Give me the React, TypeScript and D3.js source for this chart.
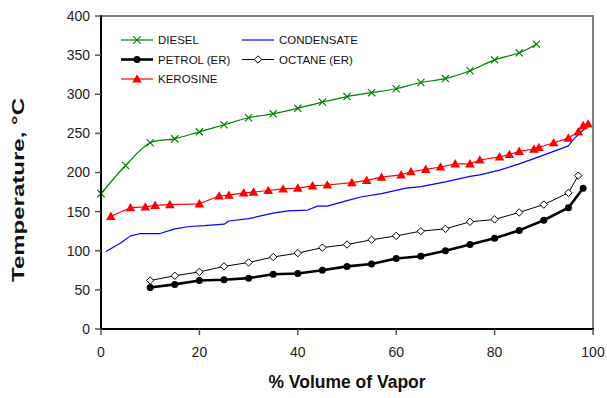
import React from "react";
import * as d3 from "d3";

// Distillation curves: temperature (°C) against % volume vaporised
const dieselX = [0, 5, 10, 15, 20, 25, 30, 35, 40, 45, 50, 55, 60, 65, 70, 75, 80, 85, 88.5];
const dieselY = [173, 209, 238, 243, 252, 261, 270, 275, 282, 290, 297, 302, 307, 315, 320, 330, 344, 353, 364];

const condensateX = [1, 4, 6, 8, 12, 15, 18, 21, 25, 26, 30, 35, 38, 42, 44, 46, 50, 53, 57, 62, 65, 70, 75, 77, 81, 85, 89, 92, 95, 96, 97.4, 99];
const condensateY = [99, 110, 119, 122, 122, 128, 131, 132, 134, 138, 141, 148, 151, 152, 157, 157, 164, 169, 173, 180, 182, 188, 195, 197, 203, 211, 220, 227, 234, 242, 251, 259];

const petrolX = [10, 15, 20, 25, 30, 35, 40, 45, 50, 55, 60, 65, 70, 75, 80, 85, 90, 95, 98];
const petrolY = [53, 57, 62, 63, 65, 70, 71, 75, 80, 83, 90, 93, 100, 108, 116, 126, 139, 155, 180];

const octaneX = [10, 15, 20, 25, 30, 35, 40, 45, 50, 55, 60, 65, 70, 75, 80, 85, 90, 95, 97];
const octaneY = [62, 68, 73, 80, 85, 92, 97, 104, 108, 114, 119, 125, 128, 137, 140, 149, 159, 174, 196];

const keroseneX = [2, 6, 9, 11, 14, 20, 24, 26, 29, 31, 34, 37, 40, 43, 46, 51, 54, 57, 61, 63, 66, 69, 72, 75, 77, 81, 83, 85, 88, 89, 92, 95, 97, 98, 99];
const keroseneY = [144, 155, 156, 158, 159, 160, 170, 171, 174, 175, 177, 179, 180, 183, 184, 187, 190, 194, 197, 201, 204, 207, 211, 211, 216, 220, 223, 227, 230, 232, 238, 244, 252, 260, 262];

const xTicks = [0, 20, 40, 60, 80, 100];
const yTicks = [0, 50, 100, 150, 200, 250, 300, 350, 400];

type Pt = [number, number];
const zip = (xs: number[], ys: number[]): Pt[] => xs.map((x, i) => [x, ys[i]]);

const W = 607;
const H = 398;
const x = d3.scaleLinear().domain([0, 100]).range([101, 593]);
const y = d3.scaleLinear().domain([0, 400]).range([329, 16]);

const FONT = "Arial, 'Liberation Sans', sans-serif";

type MarkerKind = "x" | "circle" | "triangle" | "diamond" | "none";

function Marker({ kind, cx, cy, color }: { kind: MarkerKind; cx: number; cy: number; color: string }) {
  if (kind === "x") {
    const s = 3.6;
    return (
      <path
        d={`M${cx - s},${cy - s}L${cx + s},${cy + s}M${cx - s},${cy + s}L${cx + s},${cy - s}`}
        stroke={color}
        strokeWidth={1.2}
        fill="none"
      />
    );
  }
  if (kind === "circle") return <circle cx={cx} cy={cy} r={3.5} fill={color} />;
  if (kind === "triangle") {
    const s = 4.8;
    return <path d={`M${cx},${cy - s}L${cx + s},${cy + s * 0.75}L${cx - s},${cy + s * 0.75}Z`} fill={color} />;
  }
  if (kind === "diamond") {
    const s = 3.7;
    return (
      <path
        d={`M${cx},${cy - s}L${cx + s},${cy}L${cx},${cy + s}L${cx - s},${cy}Z`}
        fill="white"
        stroke={color}
        strokeWidth={1}
      />
    );
  }
  return null;
}

interface Series {
  name: string;
  data: Pt[];
  color: string;
  width: number;
  marker: MarkerKind;
  curve: d3.CurveFactory;
}

const series: Series[] = [
  { name: "CONDENSATE", data: zip(condensateX, condensateY), color: "#0000ff", width: 1.2, marker: "none", curve: d3.curveLinear },
  { name: "DIESEL", data: zip(dieselX, dieselY), color: "#008000", width: 1.2, marker: "x", curve: d3.curveCatmullRom },
  { name: "KEROSINE", data: zip(keroseneX, keroseneY), color: "#ff0000", width: 1.2, marker: "triangle", curve: d3.curveLinear },
  { name: "OCTANE (ER)", data: zip(octaneX, octaneY), color: "#000000", width: 1, marker: "diamond", curve: d3.curveLinear },
  { name: "PETROL (ER)", data: zip(petrolX, petrolY), color: "#000000", width: 2.6, marker: "circle", curve: d3.curveLinear },
];

const legendItems: { name: string; col: number; row: number }[] = [
  { name: "DIESEL", col: 0, row: 0 },
  { name: "CONDENSATE", col: 1, row: 0 },
  { name: "PETROL (ER)", col: 0, row: 1 },
  { name: "OCTANE (ER)", col: 1, row: 1 },
  { name: "KEROSINE", col: 0, row: 2 },
];

export default function App() {
  const seriesByName = new Map(series.map((s) => [s.name, s]));
  return (
    <svg width={W} height={H} style={{ position: "absolute", left: 0, top: 0, background: "white" }} fontFamily={FONT}>
      <rect width={W} height={H} fill="white" />
      {/* frame: grey top and right edges */}
      <line x1={x(0)} x2={x(100) + 1} y1={y(400)} y2={y(400)} stroke="#808080" strokeWidth={2} />
      <line x1={x(100)} x2={x(100)} y1={y(400)} y2={y(0)} stroke="#808080" strokeWidth={2} />

      {/* series */}
      {series.map((s) => {
        const line = d3
          .line<Pt>()
          .x((d) => x(d[0]))
          .y((d) => y(d[1]))
          .curve(s.curve);
        return (
          <g key={s.name}>
            <path d={line(s.data) ?? ""} fill="none" stroke={s.color} strokeWidth={s.width} strokeLinejoin="round" />
            {s.data.map((d, i) => (
              <Marker key={i} kind={s.marker} cx={x(d[0])} cy={y(d[1])} color={s.color} />
            ))}
          </g>
        );
      })}

      {/* axes */}
      <line x1={x(0)} x2={x(0)} y1={y(400) - 1} y2={y(0) + 1} stroke="black" strokeWidth={2} />
      <line x1={x(0) - 1} x2={x(100) + 1} y1={y(0)} y2={y(0)} stroke="black" strokeWidth={2} />
      {yTicks.map((t) => (
        <g key={t}>
          <line x1={x(0) - 6} x2={x(0)} y1={y(t)} y2={y(t)} stroke="#555" strokeWidth={1.5} />
          <text x={x(0) - 11} y={y(t)} dy="0.35em" textAnchor="end" fontSize={14} fill="#222">
            {t}
          </text>
        </g>
      ))}
      {xTicks.map((t) => (
        <g key={t}>
          <line x1={x(t)} x2={x(t)} y1={y(0)} y2={y(0) + 6} stroke="#555" strokeWidth={1.5} />
          <text x={x(t)} y={357} textAnchor="middle" fontSize={14} fill="#222">
            {t}
          </text>
        </g>
      ))}

      <text x={347} y={388} textAnchor="middle" fontSize={17.5} fontWeight="bold" fill="#111">
        % Volume of Vapor
      </text>
      <text
        transform="translate(24,190) rotate(-90)"
        textAnchor="middle"
        fontSize={17}
        fontWeight="bold"
        fill="#111"
        textLength={184}
        lengthAdjust="spacingAndGlyphs"
      >
        Temperature, °C
      </text>

      {/* legend */}
      {legendItems.map((it) => {
        const s = seriesByName.get(it.name)!;
        const lx = it.col === 0 ? 121 : 242;
        const ly = 40 + it.row * 19.5;
        return (
          <g key={it.name}>
            <line x1={lx} x2={lx + 32} y1={ly} y2={ly} stroke={s.color} strokeWidth={s.width} />
            <Marker kind={s.marker} cx={lx + 16} cy={ly} color={s.color} />
            <text x={lx + 37} y={ly} dy="0.36em" fontSize={11.5} fill="#111">
              {it.name}
            </text>
          </g>
        );
      })}
    </svg>
  );
}
